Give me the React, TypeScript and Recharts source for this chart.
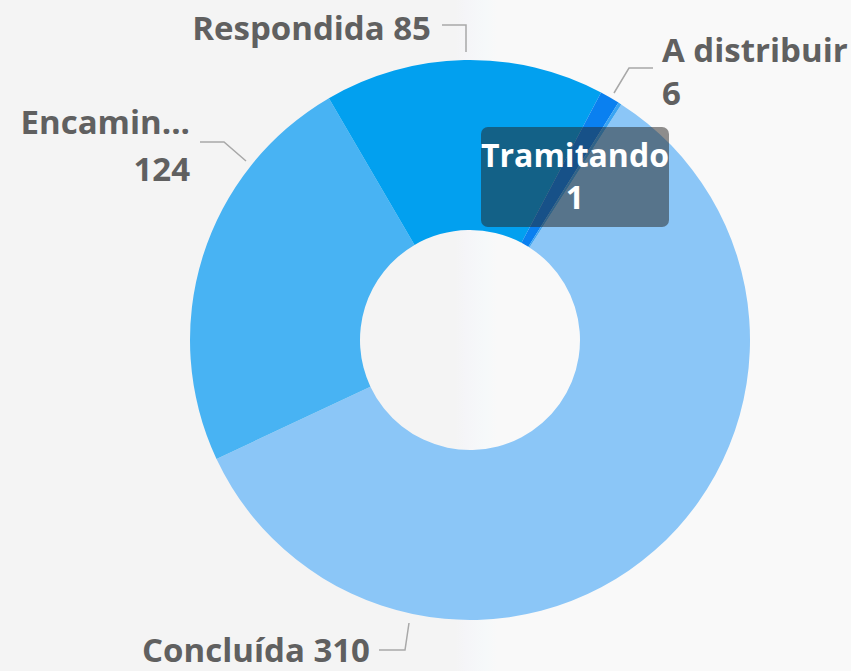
import { PieChart, Pie, Cell } from 'recharts'

const categories = ['Concluída', 'Encaminhada', 'Respondida', 'A distribuir', 'Tramitando']
const counts = [310, 124, 85, 6, 1]
const shortNames = ['Concluída', 'Encamin...', 'Respondida', 'A distribuir', 'Tramitando']
const colors = ['#8bc6f7', '#48b3f3', '#02a0ef', '#0a80f0', '#3aa4f2']

const data = categories.map((name, i) => ({ name, value: counts[i] }))

const CX = 470
const CY = 340
const FONT = "'Open Sans', 'Noto Sans', sans-serif"
const TEXT_COLOR = '#606060'

// label placement, relative to the pie centre
const labelLayout: Record<string, any> = {
  'Concluída': { line: [[-61, 283], [-65, 310], [-91, 310]], x: -100, anchor: 'end', stacked: false, y: [322], size: 33 },
  'Encaminhada': { line: [[-224, -179], [-246, -198], [-270, -198]], x: -280, anchor: 'end', stacked: true, y: [-206, -159], size: 33 },
  'Respondida': { line: [[-4, -288], [-4, -315], [-28, -315]], x: -39, anchor: 'end', stacked: false, y: [-300], size: 33 },
  'A distribuir': { line: [[144, -247], [159, -272], [183, -272]], x: 192, anchor: 'start', stacked: true, y: [-278, -235], size: 33 },
  'Tramitando': { box: [11, -213, 188, 100], x: 105, anchor: 'middle', stacked: true, y: [-173, -131], size: 32 },
}

function renderLabel(props: any) {
  const { index, value } = props
  const name = categories[index]
  const l = labelLayout[name]
  if (!l) return null
  const lines = l.stacked ? [shortNames[index], String(value)] : [`${shortNames[index]} ${value}`]
  const fill = l.box ? '#ffffff' : TEXT_COLOR
  return (
    <g key={name}>
      {l.line && (
        <polyline
          points={l.line.map((p: number[]) => `${CX + p[0]},${CY + p[1]}`).join(' ')}
          fill="none"
          stroke="#a8a8a8"
          strokeWidth={1.5}
        />
      )}
      {l.box && (
        <rect
          x={CX + l.box[0]}
          y={CY + l.box[1]}
          width={l.box[2]}
          height={l.box[3]}
          rx={7}
          fill="rgba(35,33,31,0.5)"
        />
      )}
      {lines.map((t, i) => (
        <text
          key={i}
          x={CX + l.x}
          y={CY + l.y[i]}
          textAnchor={l.anchor}
          fill={fill}
          fontFamily={FONT}
          fontWeight={700}
          fontSize={l.size}
        >
          {t}
        </text>
      ))}
    </g>
  )
}

export default function App() {
  return (
    <div
      style={{
        position: 'absolute',
        left: 0,
        top: 0,
        width: 851,
        height: 671,
        background:
          'linear-gradient(to right, #f4f4f4 0px, #f4f4f4 455px, #f5f5f8 466px, #f6f9fa 486px, #f9f9f9 497px, #f9f9f9 100%)',
      }}
    >
      <PieChart width={851} height={671} margin={{ top: 0, right: 0, bottom: 0, left: 0 }}>
        <Pie
          data={data}
          dataKey="value"
          nameKey="name"
          cx={CX}
          cy={CY}
          innerRadius={110}
          outerRadius={280}
          startAngle={57.3}
          endAngle={-302.7}
          paddingAngle={0}
          stroke="none"
          label={renderLabel}
          labelLine={false}
          isAnimationActive={false}
        >
          {data.map((entry, i) => (
            <Cell key={entry.name} fill={colors[i]} />
          ))}
        </Pie>
      </PieChart>
    </div>
  )
}
